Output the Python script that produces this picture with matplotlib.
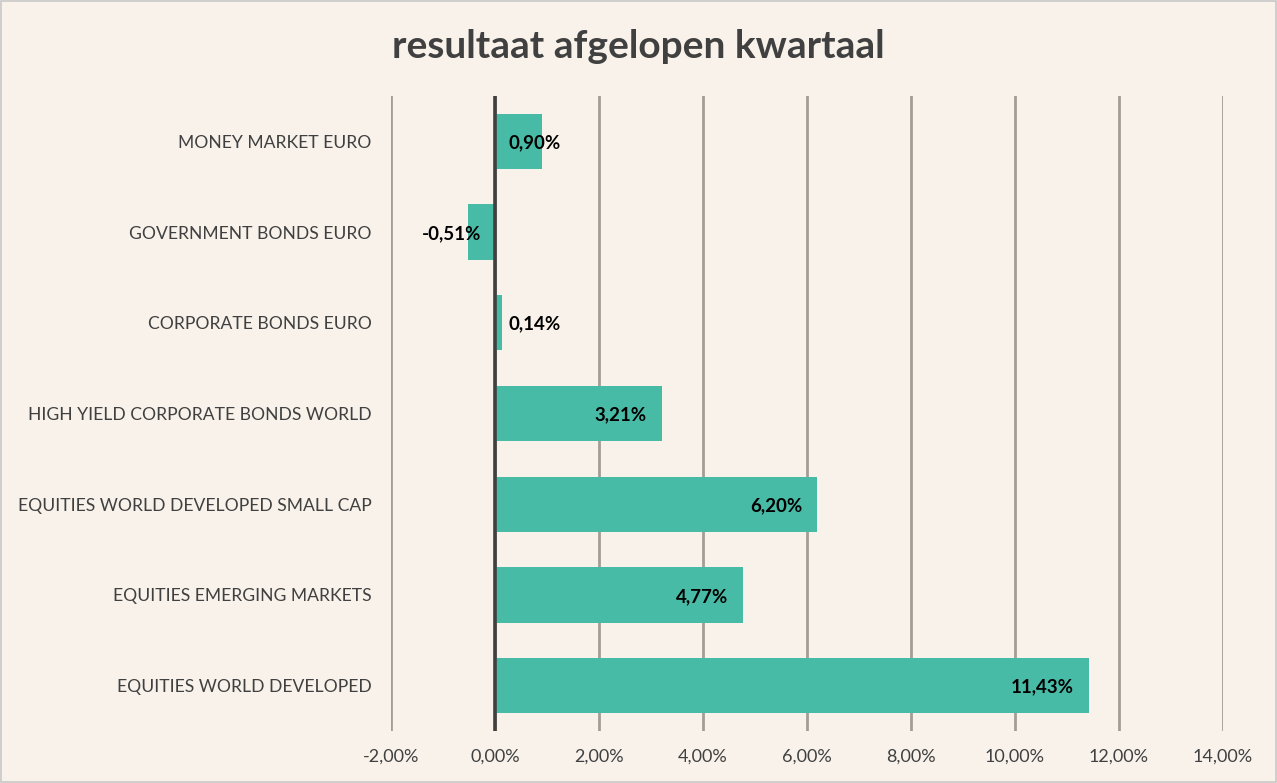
import matplotlib
matplotlib.use("Agg")
import matplotlib.pyplot as plt
from matplotlib.ticker import FuncFormatter

plt.rcParams["font.family"] = ["Lato", "DejaVu Sans"]

# data
categories = [
    "MONEY MARKET EURO",
    "GOVERNMENT BONDS EURO",
    "CORPORATE BONDS EURO",
    "HIGH YIELD CORPORATE BONDS WORLD",
    "EQUITIES WORLD DEVELOPED SMALL CAP",
    "EQUITIES EMERGING MARKETS",
    "EQUITIES WORLD DEVELOPED",
]
returns = [0.90, -0.51, 0.14, 3.21, 6.20, 4.77, 11.43]
x_ticks = [-2, 0, 2, 4, 6, 8, 10, 12, 14]

BG = "#F8F2EB"
BAR = "#48BBA6"
GRID = "#A29D97"
TEXT = "#404040"


def pct(v, _=None):
    return f"{v:.2f}%".replace(".", ",")


fig = plt.figure(figsize=(12.77, 7.83), dpi=100, facecolor=BG)
ax = fig.add_axes([391 / 1277, 1 - 731 / 783, (1223 - 391) / 1277, (731 - 96) / 783])
ax.set_facecolor(BG)

ypos = list(range(len(categories)))
ax.barh(ypos, returns, height=0.61, color=BAR, zorder=2)
ax.set_ylim(len(categories) - 0.5, -0.5)
ax.set_xlim(-2, 14)

ax.set_xticks(x_ticks)
ax.xaxis.set_major_formatter(FuncFormatter(pct))
ax.grid(axis="x", color=GRID, linewidth=2, zorder=0)
ax.axvline(0, color=TEXT, linewidth=2.6, zorder=3)
ax.set_yticks(ypos)
ax.set_yticklabels(categories)
ax.tick_params(axis="y", length=0, pad=14, labelsize=12.6, labelcolor=TEXT)
ax.tick_params(axis="x", length=0, pad=13, labelsize=13, labelcolor=TEXT)
for s in ax.spines.values():
    s.set_visible(False)

# data labels, excel "inside end" style
for y, v in zip(ypos, returns):
    if v < 0:
        ax.annotate(pct(v), (0, y), xytext=(-10, -1), textcoords="offset points",
                    ha="right", va="center", fontsize=13.5, fontweight="bold",
                    color="black", zorder=4)
    elif v < 1.5:
        ax.annotate(pct(v), (0, y), xytext=(10, -1), textcoords="offset points",
                    ha="left", va="center", fontsize=13.5, fontweight="bold",
                    color="black", zorder=4)
    else:
        ax.annotate(pct(v), (v, y), xytext=(-11, -1), textcoords="offset points",
                    ha="right", va="center", fontsize=13.5, fontweight="bold",
                    color="black", zorder=4)

fig.text(0.5, 1 - 46 / 783, "resultaat afgelopen kwartaal", ha="center", va="center",
         fontsize=28, fontweight="bold", color=TEXT)

# thin outer border
fig.patches.append(plt.Rectangle((0.0005, 0.001), 0.999, 0.998, transform=fig.transFigure,
                                 fill=False, edgecolor="#C8C8C8", linewidth=1.2))

fig.savefig("out.png", dpi=100, facecolor=BG)
